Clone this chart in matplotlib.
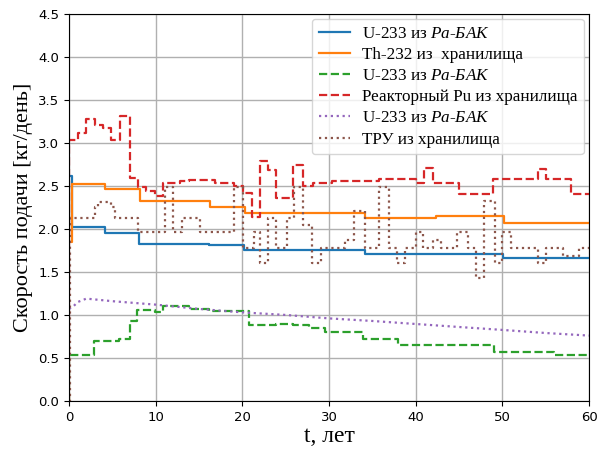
import numpy as np
import matplotlib
matplotlib.use('Agg')
import matplotlib.pyplot as plt

plt.rcParams['mathtext.fontset'] = 'custom'
plt.rcParams['mathtext.rm'] = 'Liberation Serif'
plt.rcParams['mathtext.it'] = 'Liberation Serif:italic'

# U-233 из Pa-БАК (сплошная)
t_u1 = [0, 0.3, 4.2, 8.1, 16.2, 20.2, 34.1, 50.1, 60]
y_u1 = [2.62, 2.02, 1.95, 1.83, 1.81, 1.75, 1.71, 1.66, 1.66]

# Th-232 из хранилища
t_th = [0, 0.4, 4.2, 8.2, 16.3, 20.3, 34.2, 42.3, 50.2, 60]
y_th = [1.85, 2.52, 2.46, 2.33, 2.25, 2.19, 2.13, 2.15, 2.07, 2.07]

# U-233 из Pa-БАК (штрих)
t_u2 = [0, 0.05, 2.9, 5.8, 7.0, 7.9, 9.9, 10.8, 13.9, 16.2, 20.8, 23.9, 25.8,
        27.7, 29.5, 33.9, 38.0, 49.0, 56.0, 60]
y_u2 = [0, 0.54, 0.70, 0.72, 0.93, 1.06, 1.04, 1.10, 1.07, 1.05, 0.88, 0.90, 0.88,
        0.85, 0.80, 0.72, 0.65, 0.57, 0.54, 0.54]

# Реакторный Pu из хранилища
t_pu = [0, 0.05, 1.0, 2.0, 3.0, 3.9, 4.9, 5.9, 7.0, 8.0, 8.9, 9.9, 10.9, 12.8,
        13.9, 16.9, 19.0, 20.1, 21.1, 22.0, 23.0, 23.9, 25.8, 27.0, 28.1, 30.4,
        35.8, 40.0, 41.0, 42.0, 45.0, 48.9, 54.1, 55.0, 57.9, 60]
y_pu = [0, 3.03, 3.11, 3.28, 3.21, 3.17, 3.04, 3.31, 2.59, 2.49, 2.445, 2.38, 2.53, 2.56,
        2.57, 2.53, 2.50, 2.42, 2.14, 2.79, 2.69, 2.36, 2.74, 2.50, 2.53, 2.56,
        2.58, 2.53, 2.71, 2.53, 2.41, 2.58, 2.70, 2.58, 2.41, 2.41]

# U-233 из Pa-БАК (точки)
t_u3 = [0, 0.5, 1, 2, 5, 10, 15, 20, 25, 30, 35, 40, 45, 50, 55, 60]
y_u3 = [1.07, 1.10, 1.15, 1.19, 1.16, 1.12, 1.07, 1.03, 1.00, 0.96, 0.93, 0.895,
        0.86, 0.826, 0.79, 0.76]

# ТРУ из хранилища
t_tru = [0, 0.1, 3.0, 3.4, 4.9, 5.3, 8.0, 11.1, 12.0, 13.0, 15.1, 19.0, 20.1, 21.3,
         22.0, 23.0, 23.9, 25.1, 26.0, 27.0, 28.0, 29.1, 31.8, 32.9, 34.1, 35.8,
         36.9, 37.9, 38.8, 40.0, 40.8, 42.0, 42.9, 44.8, 46.0, 47.0, 47.9, 49.1,
         50.0, 51.0, 54.1, 55.0, 57.0, 58.9, 60]
y_tru = [0, 2.13, 2.26, 2.31, 2.26, 2.13, 1.96, 2.49, 1.96, 2.13, 1.97, 2.49, 1.78, 1.97,
         1.60, 2.13, 1.78, 2.13, 2.49, 2.05, 1.60, 1.78, 1.87, 2.21, 1.78, 2.49,
         1.78, 1.60, 1.78, 1.97, 1.78, 1.87, 1.78, 1.97, 1.78, 1.43, 2.32, 1.60,
         1.97, 1.78, 1.60, 1.78, 1.69, 1.78, 1.78]

lab_pa = r'U-233 из $\mathit{Pa}$-$\mathit{БАК}$'

fig = plt.figure(figsize=(5.97, 4.5), dpi=100)
ax = fig.add_axes([0.1156, 0.109, 0.871, 0.86])

ax.step(t_u1, y_u1, where='post', color='C0', lw=1.6, label=lab_pa)
ax.step(t_th, y_th, where='post', color='C1', lw=1.6, label='Th-232 из  хранилища')
ax.step(t_u2, y_u2, where='post', color='C2', lw=1.6, ls='--', label=lab_pa)
ax.step(t_pu, y_pu, where='post', color='C3', lw=1.6, ls='--', label='Реакторный Pu из хранилища')
ax.plot(t_u3, y_u3, color='C4', lw=1.6, ls=':', label=lab_pa)
ax.step(t_tru, y_tru, where='post', color='C5', lw=1.6, ls=':', label='ТРУ из хранилища')

ax.set_xlim(0, 60)
ax.set_ylim(0, 4.5)
ax.set_xticks(np.arange(0, 61, 10))
ax.set_yticks(np.arange(0, 4.51, 0.5))
ax.grid(True, color='#b0b0b0', lw=1)
ax.tick_params(labelsize=9.5)

ax.set_xlabel('t, лет', family='Liberation Serif', fontsize=17, labelpad=2)
ax.set_ylabel('Скорость подачи [кг/день]', family='Liberation Serif', fontsize=16, labelpad=4)

ax.legend(loc='upper right', prop={'family': 'Liberation Serif', 'size': 12.3},
          handlelength=1.8, handletextpad=0.7, labelspacing=0.3, borderpad=0.4,
          borderaxespad=0.3, framealpha=0.8)

fig.savefig('out.png', dpi=100)
